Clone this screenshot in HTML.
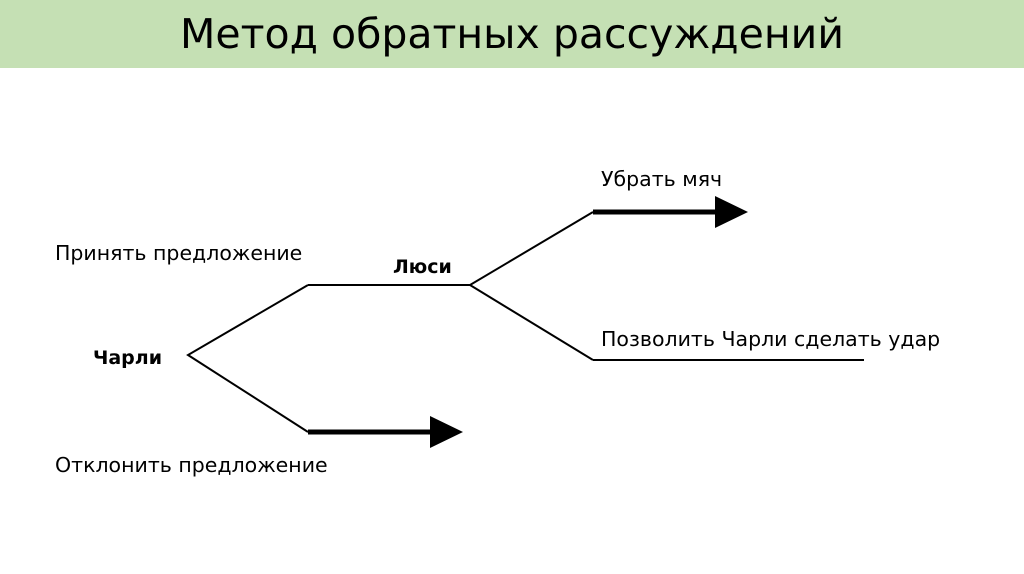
<!DOCTYPE html>
<html><head><meta charset="utf-8"><style>
html,body{margin:0;padding:0;width:1024px;height:574px;background:#fff;overflow:hidden;font-family:"DejaVu Sans","Liberation Sans",sans-serif;}
.hdr{position:absolute;left:0;top:0;width:1024px;height:68px;background:#c5e0b4;}
.t{position:absolute;white-space:nowrap;color:#000;}
</style></head><body>
<div class="hdr"></div>
<div class="t" style="left:0;width:1024px;text-align:center;top:8px;font-size:41px;line-height:52px;">Метод обратных рассуждений</div>
<svg width="1024" height="574" style="position:absolute;left:0;top:0">
<g stroke="#000" stroke-width="2" fill="none">
<polyline points="308,285 188,355 308,432"/>
<line x1="308" y1="285" x2="470" y2="285"/>
<polyline points="593,212 470,285 593,360"/>
<line x1="593" y1="360" x2="864" y2="360"/>
</g>
<line x1="308" y1="432" x2="432" y2="432" stroke="#000" stroke-width="5"/>
<polygon points="430,416 463,432 430,448" fill="#000"/>
<line x1="593" y1="212" x2="717" y2="212" stroke="#000" stroke-width="5"/>
<polygon points="715,196 748,212 715,228" fill="#000"/>
</svg>
<div class="t" style="left:55px;top:240px;font-size:20.5px;line-height:26px;">Принять предложение</div>
<div class="t" style="left:393px;top:254px;font-size:19px;line-height:26px;font-weight:bold;">Люси</div>
<div class="t" style="left:93px;top:345px;font-size:19px;line-height:26px;font-weight:bold;">Чарли</div>
<div class="t" style="left:55px;top:452px;font-size:20.5px;line-height:26px;">Отклонить предложение</div>
<div class="t" style="left:601px;top:166px;font-size:20.5px;line-height:26px;">Убрать мяч</div>
<div class="t" style="left:601px;top:326px;font-size:20.5px;line-height:26px;">Позволить Чарли сделать удар</div>
</body></html>
